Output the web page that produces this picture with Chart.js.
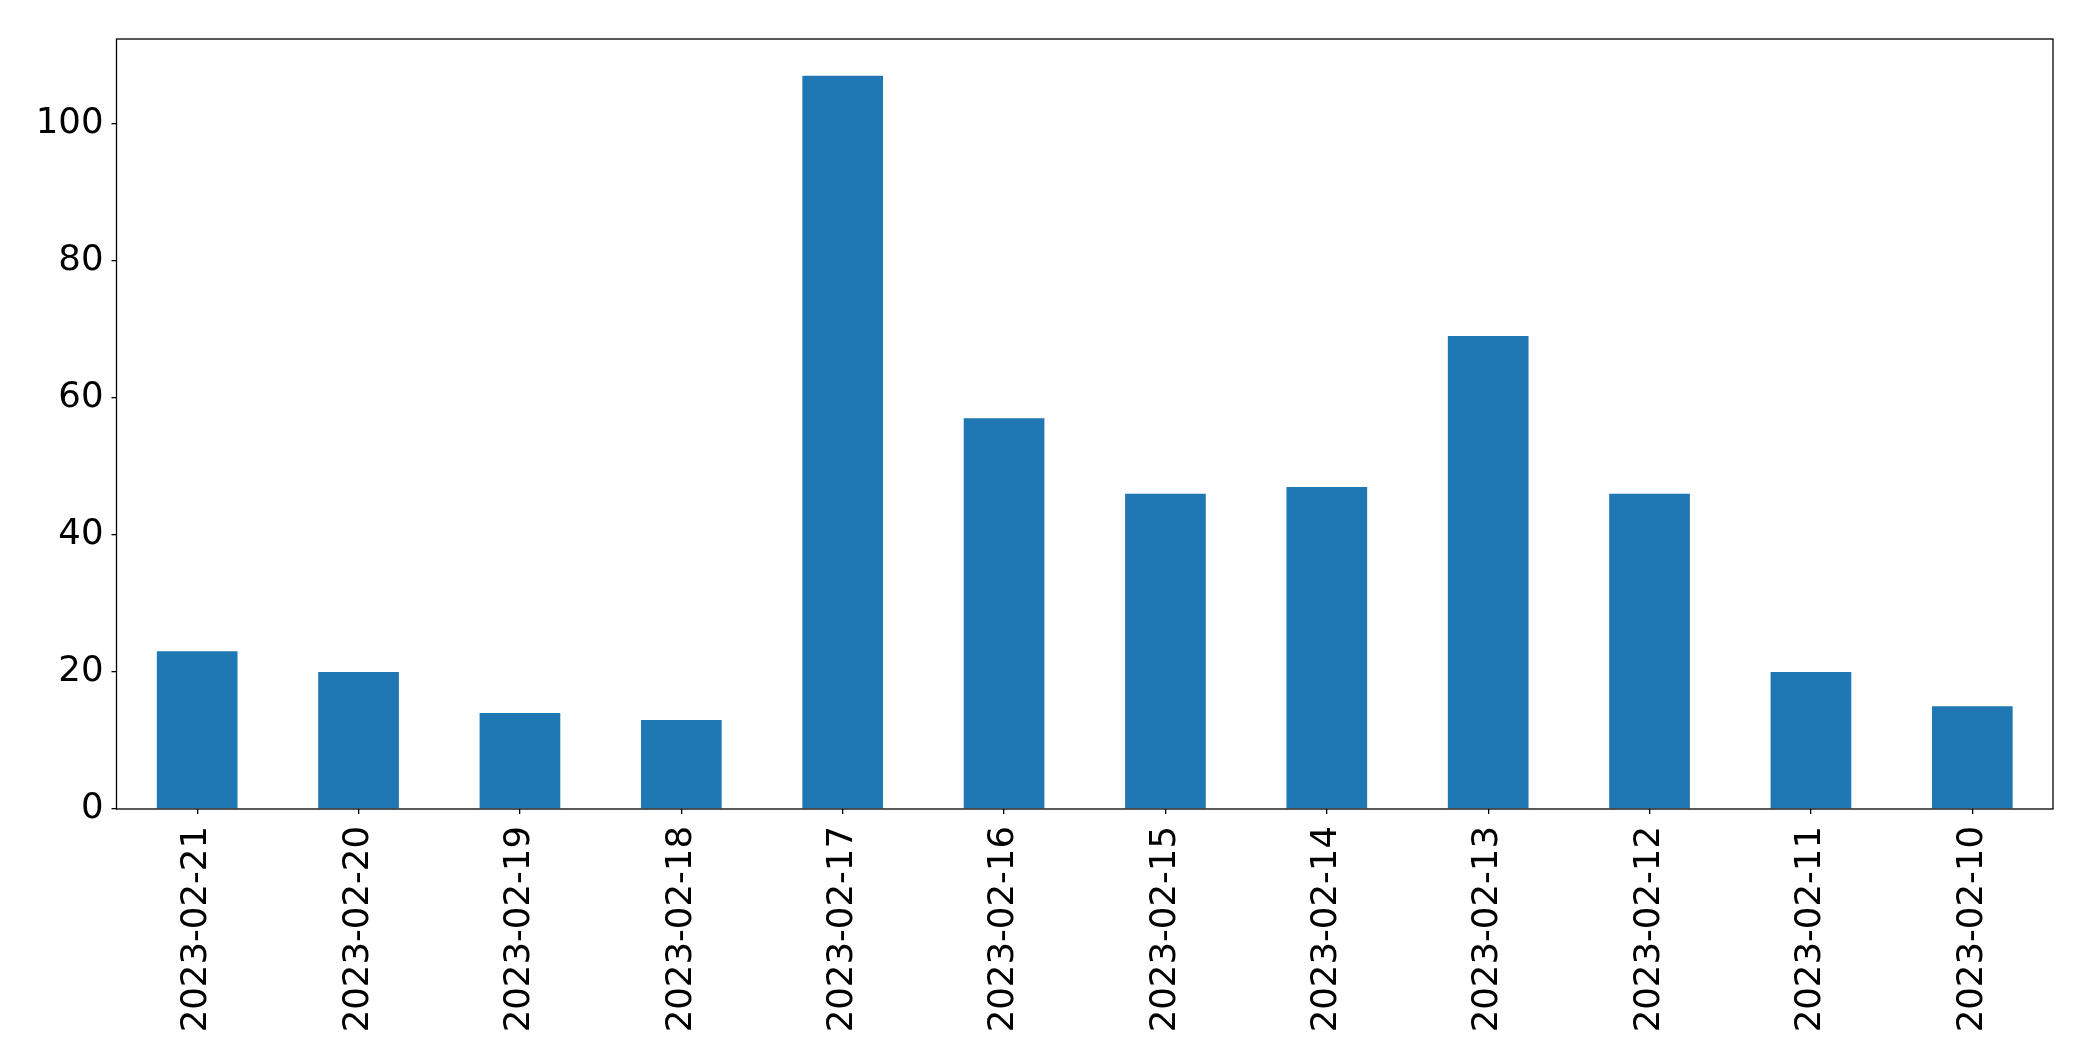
<!DOCTYPE html>
<html lang="en">
<head>
  <meta charset="UTF-8">
  <title>Daily counts</title>
  <script src="https://cdn.jsdelivr.net/npm/chart.js"></script>
  <style>
    html, body { margin: 0; padding: 0; background: #fff; }
    #wrap { width: 2093px; height: 1061px; }
  </style>
</head>
<body>
  <div id="wrap"><canvas id="barChart"></canvas></div>

  <script>
    const dates = ['2023-02-21', '2023-02-20', '2023-02-19', '2023-02-18', '2023-02-17', '2023-02-16',
                   '2023-02-15', '2023-02-14', '2023-02-13', '2023-02-12', '2023-02-11', '2023-02-10'];
    const counts = [23, 20, 14, 13, 107, 57, 46, 47, 69, 46, 20, 15];
    const yTicks = [0, 20, 40, 60, 80, 100];

    // draw the black box around the plot area, like matplotlib axes
    const frame = {
      id: 'frame',
      afterDatasetsDraw(chart) {
        const a = chart.chartArea;
        const ctx = chart.ctx;
        ctx.save();
        ctx.strokeStyle = '#000';
        ctx.lineWidth = 1.3;
        ctx.strokeRect(a.left, a.top, a.right - a.left, a.bottom - a.top);
        ctx.restore();
      }
    };

    const ctx = document.getElementById('barChart').getContext('2d');
    new Chart(ctx, {
      type: 'bar',
      data: {
        labels: dates,
        datasets: [{
          data: counts,
          backgroundColor: '#1f77b4',
          borderWidth: 0,
          categoryPercentage: 1.0,
          barPercentage: 0.5
        }]
      },
      options: {
        responsive: true,
        maintainAspectRatio: false,
        animation: false,
        layout: { padding: { left: 0, top: 39, right: 40, bottom: 0 } },
        plugins: {
          legend: { display: false },
          tooltip: { enabled: false }
        },
        scales: {
          x: {
            grid: { offset: false, drawOnChartArea: false, drawTicks: true, tickLength: 5, color: '#000', lineWidth: 1.3 },
            border: { display: false },
            ticks: {
              color: '#000',
              font: { family: 'DejaVu Sans', size: 35.5 },
              maxRotation: 90,
              minRotation: 90,
              padding: 12,
              autoSkip: false
            },
            afterFit(scale) { scale.height = 252; }
          },
          y: {
            min: 0,
            max: 112.35,
            afterBuildTicks(scale) { scale.ticks = yTicks.map(v => ({ value: v })); },
            grid: { drawOnChartArea: false, drawTicks: true, tickLength: 5, color: '#000', lineWidth: 1.3 },
            border: { display: false },
            ticks: {
              color: '#000',
              font: { family: 'DejaVu Sans', size: 35.5 },
              padding: 8
            },
            afterFit(scale) { scale.width = 116.5; }
          }
        }
      },
      plugins: [frame]
    });
  </script>
</body>
</html>
